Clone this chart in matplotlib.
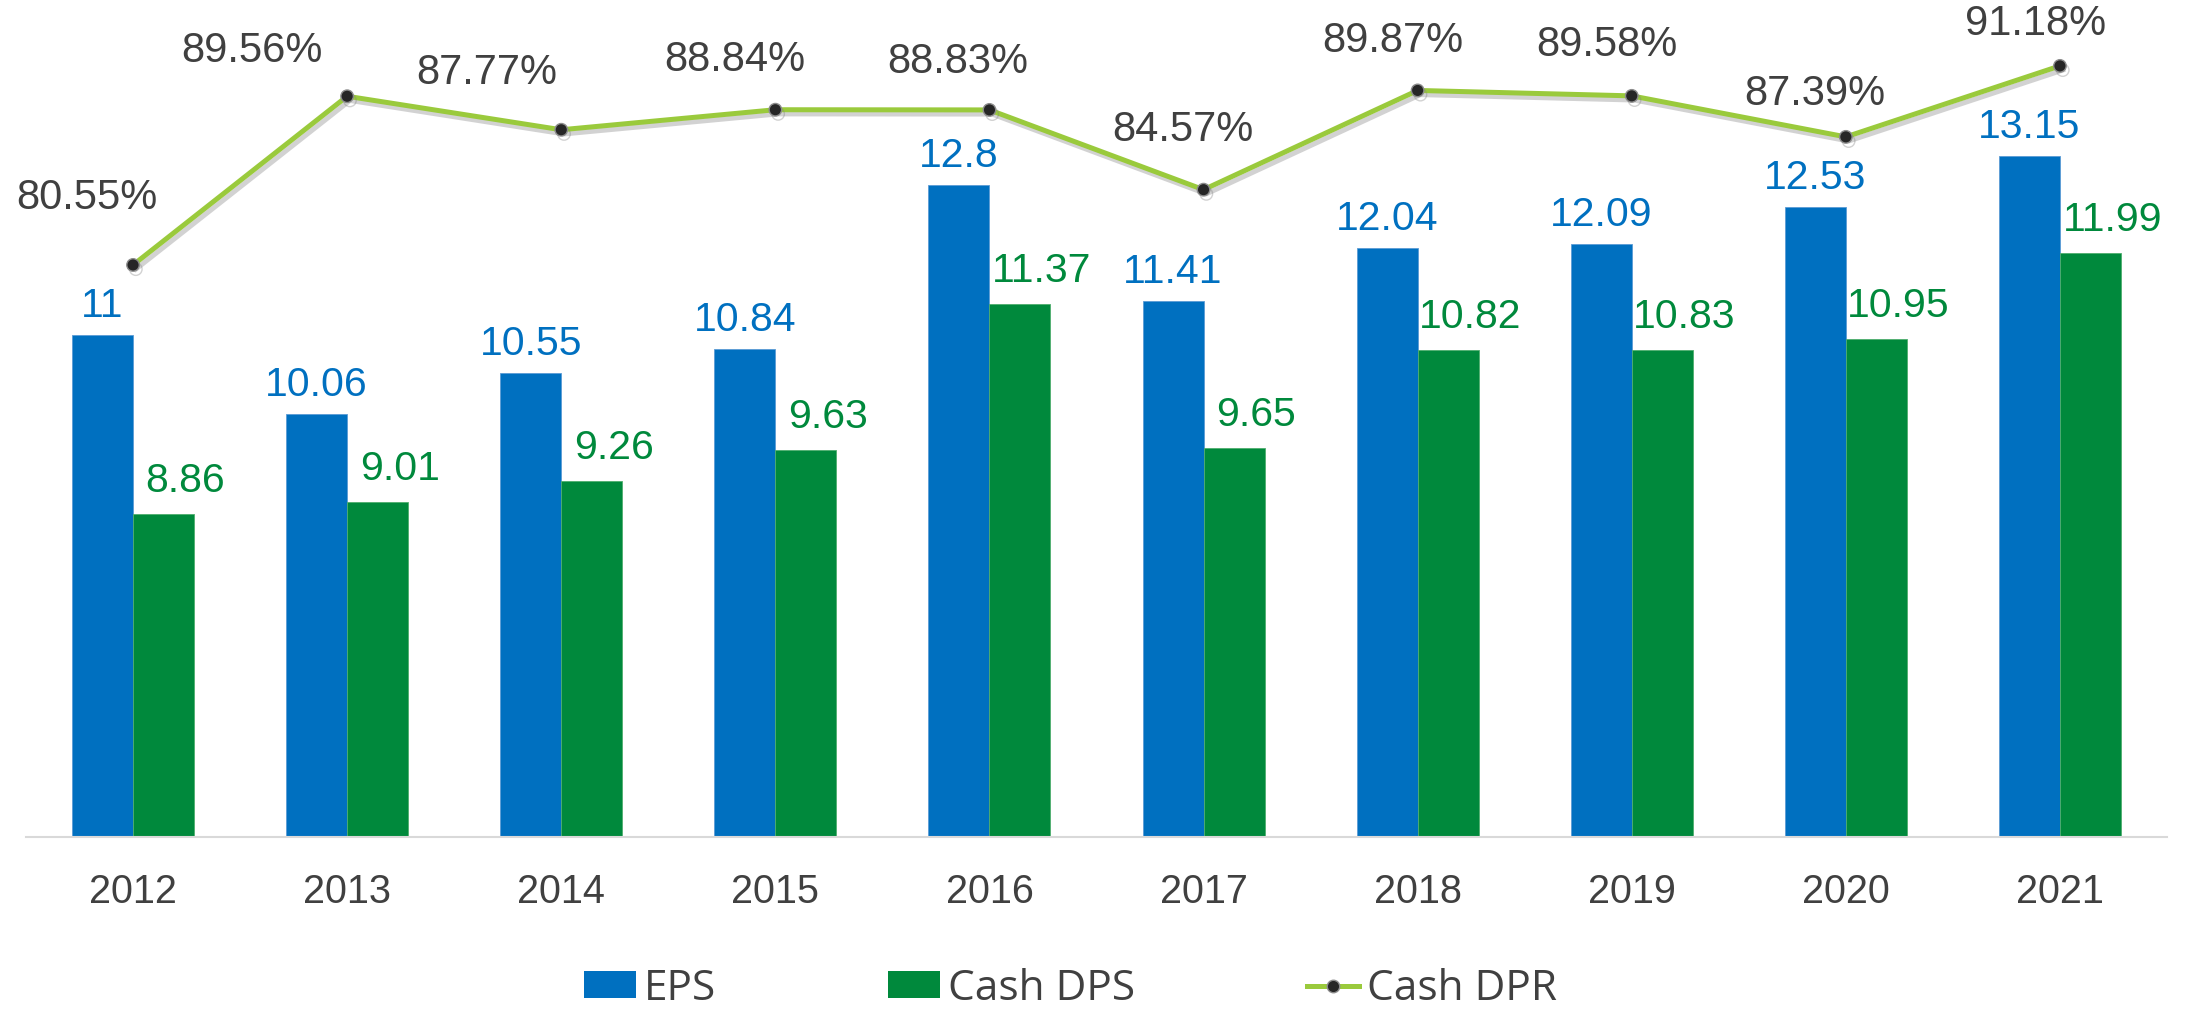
import matplotlib
matplotlib.use('Agg')
import matplotlib.pyplot as plt
import matplotlib.patheffects as pe
from matplotlib.patches import Patch
from matplotlib.lines import Line2D
import numpy as np

# chart values
years = ['2012', '2013', '2014', '2015', '2016', '2017', '2018', '2019', '2020', '2021']
eps = [11, 10.06, 10.55, 10.84, 12.8, 11.41, 12.04, 12.09, 12.53, 13.15]
cash_dps = [8.86, 9.01, 9.26, 9.63, 11.37, 9.65, 10.82, 10.83, 10.95, 11.99]
cash_dpr = [80.55, 89.56, 87.77, 88.84, 88.83, 84.57, 89.87, 89.58, 87.39, 91.18]

# label placement for the ratio line (pixels)
dpr_dx = [-46, -95, -74, -41, -32, -21, -25, -25, -31, -24]
dpr_dy = [67, 45, 57, 50, 48, 60, 49, 51, 43, 42]

blue = '#0070C0'
green = '#00893C'
lime = '#9ACA3C'
dark = '#404040'

plt.rcParams['font.family'] = ['Liberation Sans', 'DejaVu Sans']

fig = plt.figure(figsize=(21.93, 10.09), dpi=100)
ax = fig.add_axes([26 / 2193, 172 / 1009, 2141 / 2193, 837 / 1009])

x = np.arange(len(years))
w = 0.285
ax.bar(x - w / 2, eps, w, color=blue, edgecolor='#5B9BD5', linewidth=0.6, zorder=2)
ax.bar(x + w / 2, cash_dps, w, color=green, edgecolor='#4FAE6E', linewidth=0.6, zorder=2)

ax.set_xlim(-0.5, 9.5)
ax.set_ylim(5, 15.01)
ax.set_yticks([])
for s in ['top', 'right', 'left']:
    ax.spines[s].set_visible(False)
ax.spines['bottom'].set_color('#D9D9D9')
ax.spines['bottom'].set_linewidth(1.5)
ax.set_xticks(x)
ax.set_xticklabels(years, fontsize=28.5, color=dark)
ax.tick_params(axis='x', length=0, pad=26)

for i in range(len(years)):
    ax.annotate(f'{eps[i]:g}', (x[i] - w / 2, eps[i]), xytext=(0, 10),
                textcoords='offset pixels', ha='center', va='bottom',
                fontsize=29.5, color=blue)
    ax.annotate(f'{cash_dps[i]:g}', (x[i] + w / 2, cash_dps[i]), xytext=(22, 14),
                textcoords='offset pixels', ha='center', va='bottom',
                fontsize=29.5, color=green)

ax2 = ax.twinx()
ax2.set_ylim(50, 94.7)
ax2.set_yticks([])
for s in ax2.spines.values():
    s.set_visible(False)
ax2.plot(x, cash_dpr, color=lime, linewidth=3.6, marker='o', markersize=9,
         markerfacecolor='#262626', markeredgecolor='#8C8C8C', markeredgewidth=1,
         zorder=3,
         path_effects=[pe.SimpleLineShadow(offset=(2, -3), shadow_color='#7F7F7F', alpha=0.35),
                       pe.Normal()])

for i in range(len(years)):
    ax2.annotate(f'{cash_dpr[i]:.2f}%', (x[i], cash_dpr[i]), xytext=(dpr_dx[i], dpr_dy[i]),
                 textcoords='offset pixels', ha='center', va='center',
                 fontsize=30, color=dark)

handles = [Patch(facecolor=blue), Patch(facecolor=green),
           Line2D([0], [0], color=lime, linewidth=3.6, marker='o', markersize=9,
                  markerfacecolor='#262626', markeredgecolor='#8C8C8C')]
fig.legend(handles, ['EPS', 'Cash DPS', 'Cash DPR'], loc='center',
           bbox_to_anchor=(0.488, 0.02), ncol=3, frameon=False,
           prop={'family': ['Open Sans', 'DejaVu Sans'], 'size': 30.5},
           labelcolor=dark, handlelength=1.23, handleheight=0.61,
           handletextpad=0.19, columnspacing=4.05)

fig.savefig('out.png', dpi=100)
